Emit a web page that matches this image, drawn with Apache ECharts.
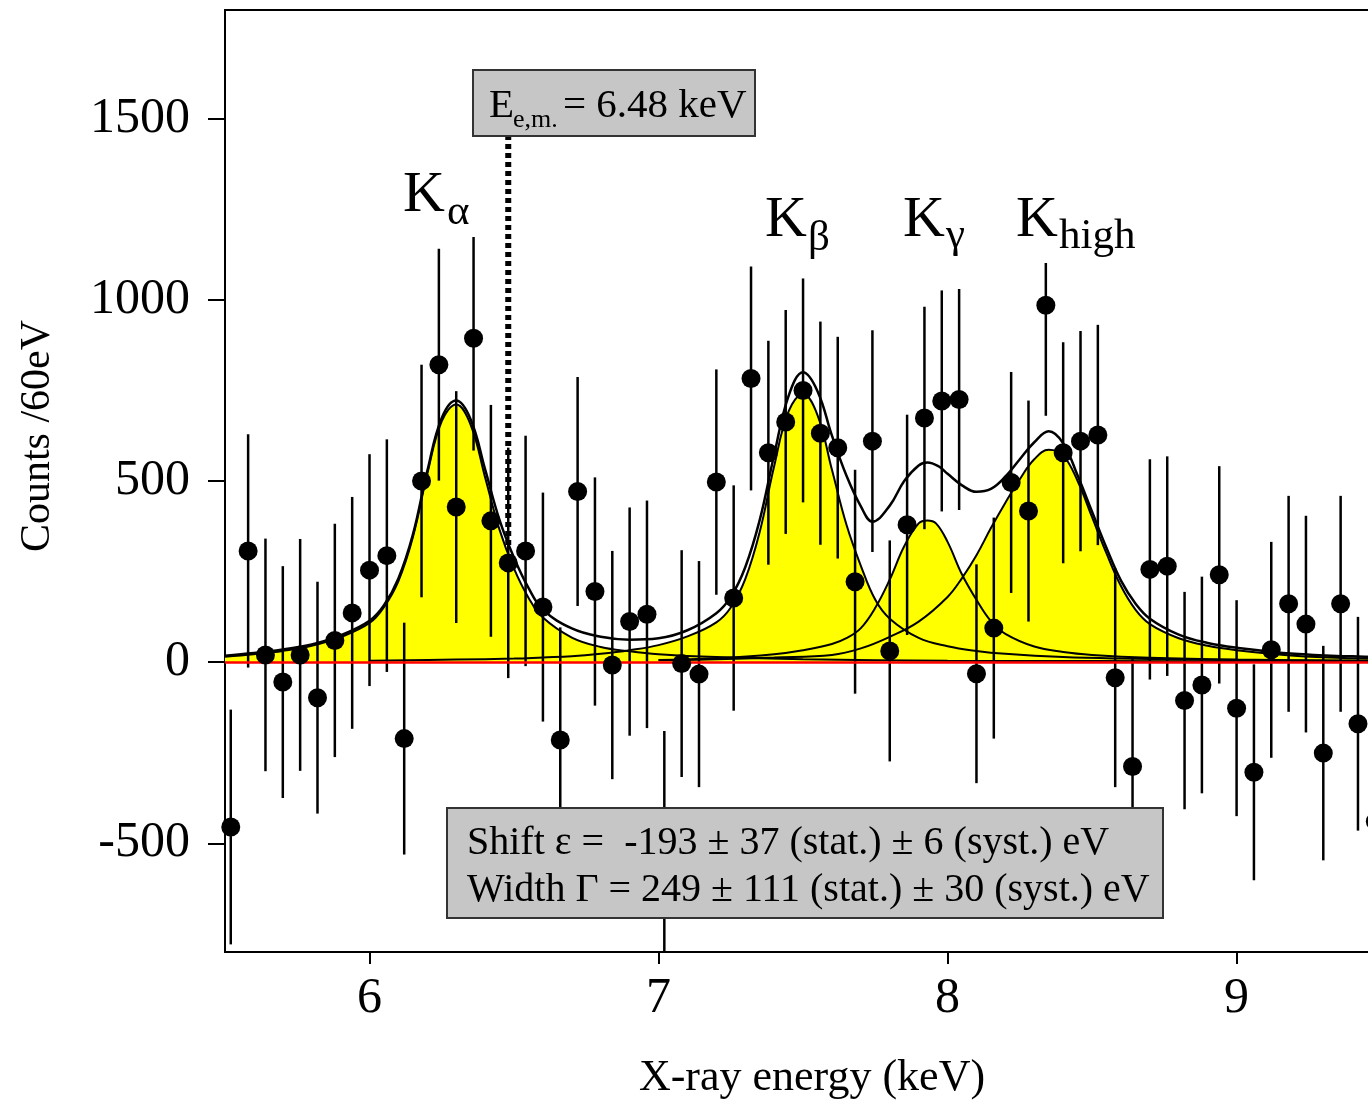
<!DOCTYPE html>
<html>
<head>
<meta charset="utf-8">
<script src="https://cdn.jsdelivr.net/npm/echarts@6/dist/echarts.min.js"></script>
<style>
html,body{margin:0;padding:0;overflow:hidden;background:#fff;}
#c{width:1450px;height:1102px;}
</style>
</head>
<body>
<div id="c"></div>
<script>
// ---------- data ----------
const energy = [5.52,5.58,5.64,5.70,5.76,5.82,5.88,5.94,6.00,6.06,6.12,6.18,6.24,6.30,6.36,6.42,6.48,6.54,6.60,6.66,6.72,6.78,6.84,6.90,6.96,7.02,7.08,7.14,7.20,7.26,7.32,7.38,7.44,7.50,7.56,7.62,7.68,7.74,7.80,7.86,7.92,7.98,8.04,8.10,8.16,8.22,8.28,8.34,8.40,8.46,8.52,8.58,8.64,8.70,8.76,8.82,8.88,8.94,9.00,9.06,9.12,9.18,9.24,9.30,9.36,9.42,9.48];
const counts = [-455,307,20,-55,20,-98,60,136,254,294,-211,500,821,428,894,390,274,307,152,-215,471,195,-8,112,132,-510,-4,-33,497,177,783,578,663,750,632,592,222,610,31,379,674,721,725,-32,94,496,417,985,578,610,627,-43,-288,256,265,-106,-63,241,-127,-304,34,161,105,-251,161,-170,-440];
const errors = [324,322,321,320,320,320,322,320,320,321,320,321,320,320,310,320,318,318,316,311,316,315,315,315,314,320,313,312,311,311,309,309,309,309,308,306,309,306,305,304,307,305,305,302,305,305,305,305,305,304,304,302,302,304,303,300,299,300,298,298,298,298,299,296,298,295,295];

// fit curves
const kaX = [5.50,5.60,5.70,5.80,5.90,6.00,6.05,6.10,6.15,6.20,6.25,6.30,6.35,6.40,6.45,6.50,6.55,6.60,6.70,6.80,6.90,7.00,7.20,7.50,8.00,8.50,9.00,9.60];
const kaY = [15,22,31,45,69,108,152,224,345,520,665,711,655,510,365,258,178,123,68,42,30,22,14,8,4,3,2,1];
const kbX = [6.00,6.30,6.50,6.60,6.70,6.80,6.90,7.00,7.10,7.20,7.25,7.30,7.35,7.40,7.45,7.50,7.55,7.60,7.65,7.70,7.75,7.80,7.90,8.00,8.10,8.20,8.40,8.60,9.00,9.60];
const kbY = [4,7,10,13,16,23,33,47,71,110,151,229,359,541,692,740,682,531,380,266,172,120,67,44,31,23,14,10,6,3];
const kgX = [7.00,7.20,7.40,7.50,7.60,7.65,7.70,7.75,7.80,7.85,7.90,7.93,7.96,8.00,8.05,8.10,8.15,8.20,8.30,8.40,8.50,8.70,9.00,9.60];
const kgY = [6,11,22,33,50,66,94,150,228,320,383,391,383,332,242,172,113,78,43,28,20,12,7,3];
const khX = [7.00,7.20,7.40,7.60,7.70,7.80,7.90,8.00,8.05,8.10,8.15,8.20,8.25,8.30,8.35,8.40,8.45,8.50,8.55,8.60,8.65,8.70,8.80,8.90,9.00,9.20,9.40,9.60];
const khY = [5,8,13,20,38,70,112,180,232,295,370,440,505,560,586,570,500,400,300,210,145,105,66,45,33,18,11,8];
const totX = [5.50,5.60,5.70,5.80,5.90,6.00,6.05,6.10,6.15,6.20,6.25,6.30,6.35,6.40,6.45,6.50,6.55,6.60,6.70,6.80,6.90,7.00,7.10,7.20,7.25,7.30,7.35,7.40,7.45,7.50,7.55,7.60,7.65,7.70,7.74,7.80,7.85,7.90,7.93,7.97,8.00,8.05,8.10,8.15,8.20,8.25,8.30,8.35,8.40,8.45,8.50,8.55,8.60,8.65,8.70,8.80,8.90,9.00,9.20,9.40,9.60];
const totY = [18,25,35,49,74,114,157,231,352,528,674,722,670,532,392,288,205,145,93,70,62,66,88,135,180,262,392,572,735,800,748,625,515,430,388,432,500,543,551,540,520,488,470,478,512,560,607,637,604,515,415,315,225,162,120,76,53,40,23,16,12];

const xTicks = [6,7,8,9];
const yTicks = [-500,0,500,1000,1500];
const xRange = [5.5, 9.6];
const yRange = [-800, 1800];
const eEnergy = 6.48;
const eLine = [1455, 318];

// ---------- chart ----------
const SERIF = "'Liberation Serif','Times New Roman',serif";
const zip = (xs, ys) => xs.map((x, i) => [x, ys[i]]);
const chart = echarts.init(document.getElementById('c'), null, {renderer: 'canvas'});

function fill(xs, ys) {
  return {type: 'line', data: zip(xs, ys), symbol: 'none', showSymbol: false, smooth: 0.4,
    lineStyle: {width: 0}, areaStyle: {color: '#ffff00', opacity: 1, origin: 0}, z: 1, silent: true, animation: false};
}
function curve(xs, ys, w) {
  return {type: 'line', data: zip(xs, ys), symbol: 'none', showSymbol: false, smooth: 0.4,
    lineStyle: {color: '#000', width: w, opacity: 1}, z: 3, silent: true, animation: false};
}

const option = {
  animation: false,
  backgroundColor: '#fff',
  grid: {left: 225, top: 10, right: 40, bottom: 150, show: true, borderColor: '#000', borderWidth: 2, backgroundColor: 'transparent'},
  xAxis: {
    type: 'value', min: xRange[0], max: xRange[1],
    axisLine: {show: true, onZero: false, lineStyle: {color: '#000', width: 2}},
    axisTick: {show: true, customValues: xTicks, length: 12, lineStyle: {color: '#000', width: 2}},
    axisLabel: {customValues: xTicks, fontSize: 50, fontFamily: SERIF, color: '#000', margin: 22, formatter: v => String(v)},
    splitLine: {show: false}
  },
  yAxis: {
    type: 'value', min: yRange[0], max: yRange[1],
    axisLine: {show: true, onZero: false, lineStyle: {color: '#000', width: 2}},
    axisTick: {show: true, customValues: yTicks, length: 17, lineStyle: {color: '#000', width: 2}},
    axisLabel: {customValues: yTicks, fontSize: 50, fontFamily: SERIF, color: '#000', margin: 35, formatter: v => String(v)},
    splitLine: {show: false}
  },
  series: [
    fill(kaX, kaY), fill(kbX, kbY), fill(kgX, kgY), fill(khX, khY),
    {type: 'line', data: [], z: 2, silent: true,
      markLine: {silent: true, symbol: 'none', animation: false, label: {show: false},
        lineStyle: {color: '#ff0000', width: 2.5, type: 'solid', opacity: 1}, data: [{yAxis: 0}]}},
    curve(kaX, kaY, 2), curve(kbX, kbY, 2), curve(kgX, kgY, 2), curve(khX, khY, 2),
    curve(totX, totY, 2.5),
    {type: 'custom', z: 4, silent: true, animation: false,
      dimensions: ['x', 'y', 'err'], encode: {x: 0, y: 1},
      data: energy.map((x, i) => [x, counts[i], errors[i]]),
      renderItem: function (params, api) {
        const x = api.value(0), y = api.value(1), e = api.value(2);
        const lo = Math.max(y - e, yRange[0]), hi = Math.min(y + e, yRange[1]);
        const p1 = api.coord([x, lo]), p2 = api.coord([x, hi]);
        return {type: 'line', shape: {x1: p1[0], y1: p1[1], x2: p2[0], y2: p2[1]},
          style: {stroke: '#000', lineWidth: 2.5}};
      }},
    {type: 'scatter', z: 5, silent: true, data: zip(energy, counts), symbol: 'circle', symbolSize: 19,
      itemStyle: {color: '#000', opacity: 1}},
    // dotted marker of the electromagnetic energy
    {type: 'custom', z: 6, silent: true, animation: false,
      dimensions: ['x', 'top', 'bottom'], encode: {x: 0, y: [1, 2]},
      data: [[eEnergy, eLine[0], eLine[1]]],
      renderItem: function (params, api) {
        const p1 = api.coord([api.value(0), api.value(1)]), p2 = api.coord([api.value(0), api.value(2)]);
        return {type: 'line', shape: {x1: p1[0], y1: p1[1], x2: p2[0], y2: p2[1]},
          style: {stroke: '#000', lineWidth: 6, lineDash: [5, 4]}};
      }}
  ],
  graphic: [
    // white backgrounds for peak labels
    {type: 'rect', z: 100, shape: {x: 400, y: 170, width: 78, height: 67}, style: {fill: '#fff'}},
    {type: 'rect', z: 100, shape: {x: 1012, y: 190, width: 126, height: 73}, style: {fill: '#fff'}},
    // peak labels
    {type: 'text', z: 101, x: 403, y: 196, style: {text: 'K', font: '58px ' + SERIF, fill: '#000', textAlign: 'left', textVerticalAlign: 'middle'}},
    {type: 'text', z: 101, x: 447, y: 213, style: {text: 'α', font: '43px ' + SERIF, fill: '#000', textAlign: 'left', textVerticalAlign: 'middle'}},
    {type: 'text', z: 101, x: 765, y: 221, style: {text: 'K', font: '58px ' + SERIF, fill: '#000', textAlign: 'left', textVerticalAlign: 'middle'}},
    {type: 'text', z: 101, x: 808, y: 239, style: {text: 'β', font: '43px ' + SERIF, fill: '#000', textAlign: 'left', textVerticalAlign: 'middle'}},
    {type: 'text', z: 101, x: 903, y: 221, style: {text: 'K', font: '58px ' + SERIF, fill: '#000', textAlign: 'left', textVerticalAlign: 'middle'}},
    {type: 'text', z: 101, x: 946, y: 236, style: {text: 'γ', font: '43px ' + SERIF, fill: '#000', textAlign: 'left', textVerticalAlign: 'middle'}},
    {type: 'text', z: 101, x: 1016, y: 221, style: {text: 'K', font: '58px ' + SERIF, fill: '#000', textAlign: 'left', textVerticalAlign: 'middle'}},
    {type: 'text', z: 101, x: 1059, y: 237, style: {text: 'high', font: '43px ' + SERIF, fill: '#000', textAlign: 'left', textVerticalAlign: 'middle'}},
    // E e.m. box
    {type: 'rect', z: 100, shape: {x: 473, y: 70, width: 282, height: 66}, style: {fill: '#c6c6c6', stroke: '#333', lineWidth: 2}},
    {type: 'text', z: 101, x: 489, y: 106, style: {text: 'E', font: '41px ' + SERIF, fill: '#000', textAlign: 'left', textVerticalAlign: 'middle'}},
    {type: 'text', z: 101, x: 513, y: 120, style: {text: 'e,m.', font: '26px ' + SERIF, fill: '#000', textAlign: 'left', textVerticalAlign: 'middle'}},
    {type: 'text', z: 101, x: 563, y: 106, style: {text: '= 6.48 keV', font: '41px ' + SERIF, fill: '#000', textAlign: 'left', textVerticalAlign: 'middle'}},
    // result box
    {type: 'rect', z: 100, shape: {x: 447, y: 808, width: 716, height: 110}, style: {fill: '#c6c6c6', stroke: '#333', lineWidth: 2}},
    {type: 'text', z: 101, x: 467, y: 843, style: {text: 'Shift ε =  -193 ± 37 (stat.) ± 6 (syst.) eV', font: '40px ' + SERIF, fill: '#000', textAlign: 'left', textVerticalAlign: 'middle'}},
    {type: 'text', z: 101, x: 467, y: 890, style: {text: 'Width Γ = 249 ± 111 (stat.) ± 30 (syst.) eV', font: '40px ' + SERIF, fill: '#000', textAlign: 'left', textVerticalAlign: 'middle'}},
    // axis titles
    {type: 'text', z: 101, x: 812, y: 1078, style: {text: 'X-ray energy (keV)', font: '44px ' + SERIF, fill: '#000', textAlign: 'center', textVerticalAlign: 'middle'}},
    {type: 'text', z: 101, x: 38, y: 436, rotation: Math.PI / 2, style: {text: 'Counts /60eV', font: '42px ' + SERIF, fill: '#000', textAlign: 'center', textVerticalAlign: 'middle'}}
  ]
};
chart.setOption(option);
</script>
</body>
</html>
